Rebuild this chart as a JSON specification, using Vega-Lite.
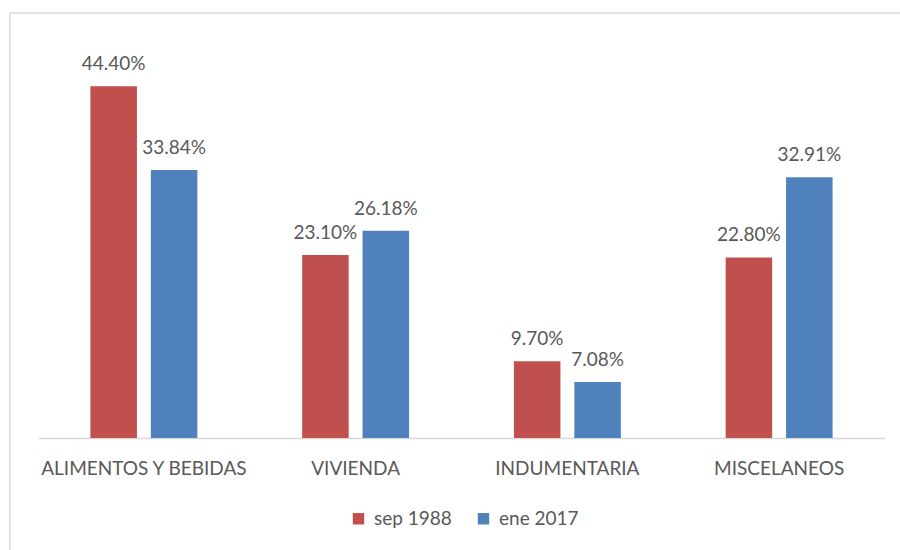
{
  "$schema": "https://vega.github.io/schema/vega-lite/v6.json",
  "autosize": "none",
  "width": 892,
  "height": 539,
  "padding": {"left": 10, "top": 13, "right": -2, "bottom": -2},
  "background": "white",
  "config": {
    "view": {"stroke": "#d9d9d9", "strokeWidth": 1.5},
    "font": "Lato"
  },
  "data": {
    "values": [
      {"categoria": "ALIMENTOS Y BEBIDAS", "periodo": "sep 1988", "valor": 0.444},
      {"categoria": "ALIMENTOS Y BEBIDAS", "periodo": "ene 2017", "valor": 0.3384},
      {"categoria": "VIVIENDA", "periodo": "sep 1988", "valor": 0.231},
      {"categoria": "VIVIENDA", "periodo": "ene 2017", "valor": 0.2618},
      {"categoria": "INDUMENTARIA", "periodo": "sep 1988", "valor": 0.097},
      {"categoria": "INDUMENTARIA", "periodo": "ene 2017", "valor": 0.0708},
      {"categoria": "MISCELANEOS", "periodo": "sep 1988", "valor": 0.228},
      {"categoria": "MISCELANEOS", "periodo": "ene 2017", "valor": 0.3291}
    ]
  },
  "encoding": {
    "x": {
      "field": "categoria",
      "type": "nominal",
      "sort": ["ALIMENTOS Y BEBIDAS", "VIVIENDA", "INDUMENTARIA", "MISCELANEOS"],
      "scale": {"range": [28, 875], "paddingInner": 0.495, "paddingOuter": 0.2475},
      "axis": {
        "title": null,
        "labelAngle": 0,
        "ticks": false,
        "offset": -114,
        "domainColor": "#d9d9d9",
        "domainWidth": 1.5,
        "labelColor": "#595959",
        "labelFont": "Lato",
        "labelFontSize": 19,
        "labelPadding": 21,
        "labelLimit": 0,
        "grid": false
      }
    },
    "xOffset": {
      "field": "periodo",
      "type": "nominal",
      "sort": ["sep 1988", "ene 2017"],
      "scale": {"paddingInner": 0.23, "paddingOuter": 0}
    },
    "y": {
      "field": "valor",
      "type": "quantitative",
      "scale": {"domain": [-0.1439, 0.5366], "nice": false, "zero": false},
      "axis": null
    }
  },
  "layer": [
    {
      "mark": {"type": "bar"},
      "encoding": {
        "y2": {"datum": 0},
        "color": {
          "field": "periodo",
          "type": "nominal",
          "sort": ["sep 1988", "ene 2017"],
          "scale": {"domain": ["sep 1988", "ene 2017"], "range": ["#C0504D", "#4F81BD"]},
          "legend": {
            "title": null,
            "orient": "none",
            "direction": "horizontal",
            "legendX": 339,
            "legendY": 496,
            "symbolType": "square",
            "symbolSize": 130,
            "symbolStrokeWidth": 0,
            "labelFont": "Lato",
            "labelFontSize": 19,
            "labelColor": "#595959",
            "labelOffset": 6,
            "columnPadding": 22,
            "padding": 0
          }
        }
      }
    },
    {
      "mark": {"type": "text", "baseline": "alphabetic", "dy": -16, "font": "Lato", "fontSize": 19, "color": "#595959"},
      "encoding": {
        "text": {"field": "valor", "type": "quantitative", "format": ".2%"}
      }
    }
  ]
}
